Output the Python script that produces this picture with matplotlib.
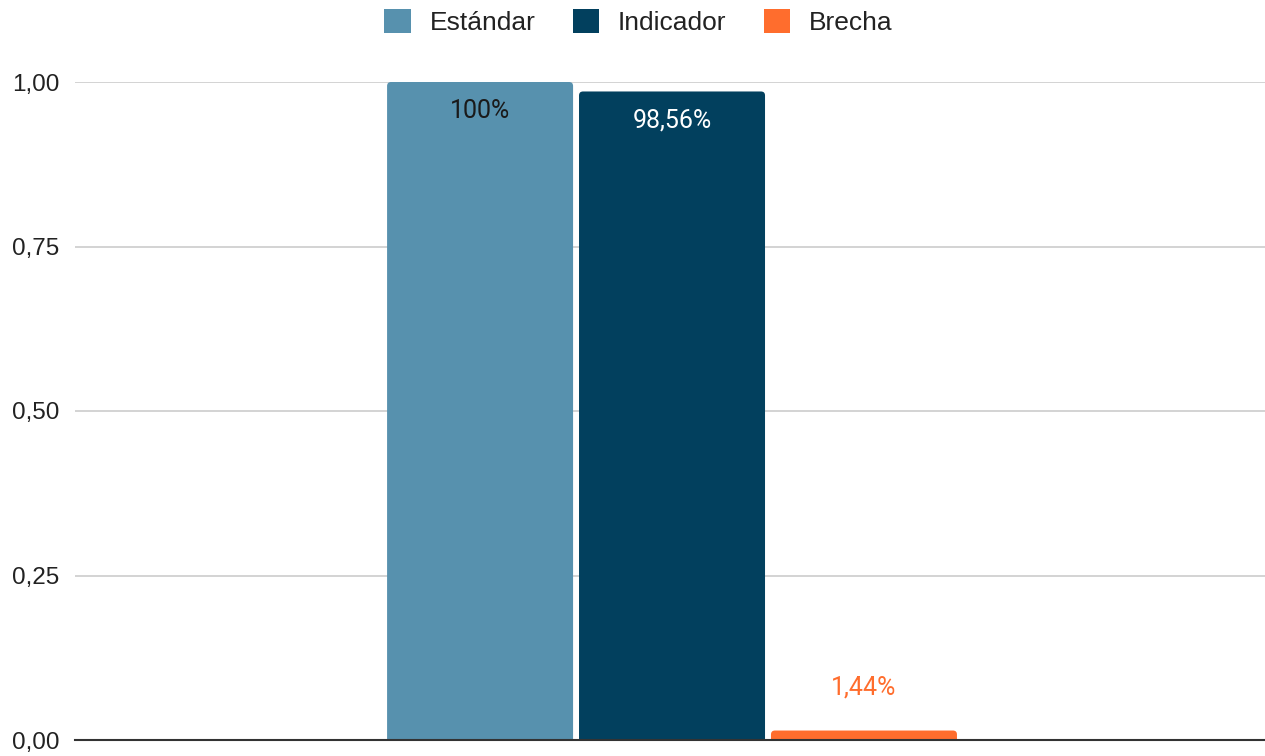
import matplotlib.pyplot as plt
from matplotlib.patches import FancyBboxPatch
from matplotlib.ticker import FuncFormatter

plt.rcParams['font.family'] = ['Liberation Sans', 'DejaVu Sans']

series = ["Estándar", "Indicador", "Brecha"]
values = [1.00, 0.9856, 0.0144]
labels = ["100%", "98,56%", "1,44%"]
colors = ["#5791ae", "#02405e", "#ff6d2d"]
label_colors = ["#1a1a1a", "#ffffff", "#ff6d2d"]
yticks = [0, 0.25, 0.5, 0.75, 1.0]

fig = plt.figure(figsize=(12.65, 7.56), dpi=100)
ax = fig.add_axes([75 / 1265, 1 - 740 / 756, 1190 / 1265, (740 - 82) / 756])

width = 0.1563
step = 0.1613
shift = 0.0017
r = 4 / 1190          # corner radius in x data units
aspect = 1190 / 658   # y units per px / x units per px

for i, (name, v) in enumerate(zip(series, values)):
    x = (i - 1) * step + shift
    bars = ax.bar(x, v, width=width, color=colors[i], label=name, zorder=3)
    bars[0].set_visible(False)
    # rounded top corners; bottom hidden below 0
    ry = r * aspect
    ax.add_patch(FancyBboxPatch((x - width / 2, -ry), width, v + ry,
                                boxstyle=f"round,pad=0,rounding_size={r}",
                                mutation_aspect=aspect, facecolor=colors[i],
                                edgecolor="none", zorder=3))
    if v > 0.5:
        ax.annotate(labels[i], (x, v), xytext=(0, -21), textcoords="offset points",
                    ha="center", va="center", fontsize=18, color=label_colors[i],
                    family=["Roboto", "DejaVu Sans"], zorder=4)
    else:
        ax.annotate(labels[i], (x, v), xytext=(0, 31), textcoords="offset points",
                    ha="center", va="center", fontsize=18, color=label_colors[i],
                    family=["Roboto", "DejaVu Sans"], zorder=4)

ax.set_xlim(-0.5, 0.5)
ax.set_ylim(0, 1.0)
ax.set_yticks(yticks)
ax.yaxis.set_major_formatter(FuncFormatter(lambda v, p: f"{v:.2f}".replace(".", ",")))
ax.set_xticks([])
ax.tick_params(axis="y", length=0, labelsize=17.5, pad=11, colors="#222222")
ax.grid(axis="y", color="#cccccc", linewidth=1.2, zorder=0)
for s in ["top", "right", "left"]:
    ax.spines[s].set_visible(False)
ax.spines["bottom"].set_color("#333333")
ax.spines["bottom"].set_linewidth(1.5)
ax.spines["bottom"].set_zorder(5)

leg = fig.legend(loc="center", bbox_to_anchor=(0.5 + 6 / 1265, 1 - 22 / 756), ncol=3,
                 frameon=False, fontsize=19, handlelength=1.0, handleheight=1.0,
                 handletextpad=0.72, columnspacing=1.4)
for t in leg.get_texts():
    t.set_color("#222222")
for h in leg.legend_handles:
    h.set_visible(True)

fig.savefig("out.png", dpi=100)
